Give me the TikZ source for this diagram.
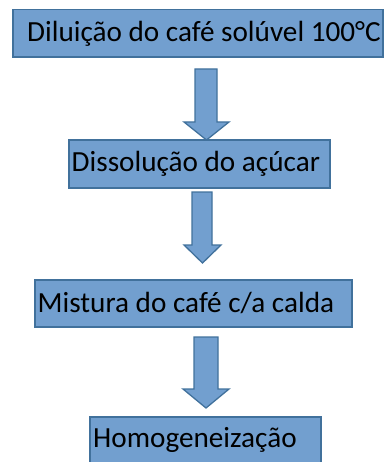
\documentclass[tikz,border=0pt]{standalone}
\usepackage{fontspec}
\setmainfont{Carlito}
\definecolor{boxfill}{RGB}{114,159,207}
\definecolor{boxline}{RGB}{65,113,156}
\begin{document}
\begin{tikzpicture}[x=1pt,y=-1pt,
  stepbox/.style={draw=boxline,fill=boxfill,line width=1.3pt,inner sep=0pt},
  blockarrow/.style={draw=boxline,fill=boxfill,line width=1.3pt,line join=miter},
  lbl/.style={anchor=base west,inner sep=0pt,font=\fontsize{29.2}{35}\selectfont}]
\useasboundingbox (0,0) rectangle (387,462);
% boxes
\path[stepbox] (13,9.5) rectangle (383,57);
\path[stepbox] (69,140) rectangle (330,188);
\path[stepbox] (35,280) rectangle (352,327);
\path[stepbox] (90,417) rectangle (321,475);
% texts
\node[lbl] (t1) at (27,41.5) {Diluição do café solúvel 100°C};
\node[lbl] (t2) at (71.5,171.7) {Dissolução do açúcar};
\node[lbl] (t3) at (37.5,312) {Mistura do café c/a calda};
\node[lbl] (t4) at (93,447) {Homogeneização};
% block arrows
\draw[blockarrow] (195,69) -- (217,69) -- (217,122) -- (229,122) -- (206.5,140) -- (184,122) -- (195,122) -- cycle;
\draw[blockarrow] (192,192) -- (212,192) -- (212,245) -- (221,245) -- (202.5,263) -- (184,245) -- (192,245) -- cycle;
\draw[blockarrow] (194,337) -- (218,337) -- (218,389) -- (229,389) -- (206,408) -- (183,389) -- (194,389) -- cycle;
\end{tikzpicture}
\end{document}
